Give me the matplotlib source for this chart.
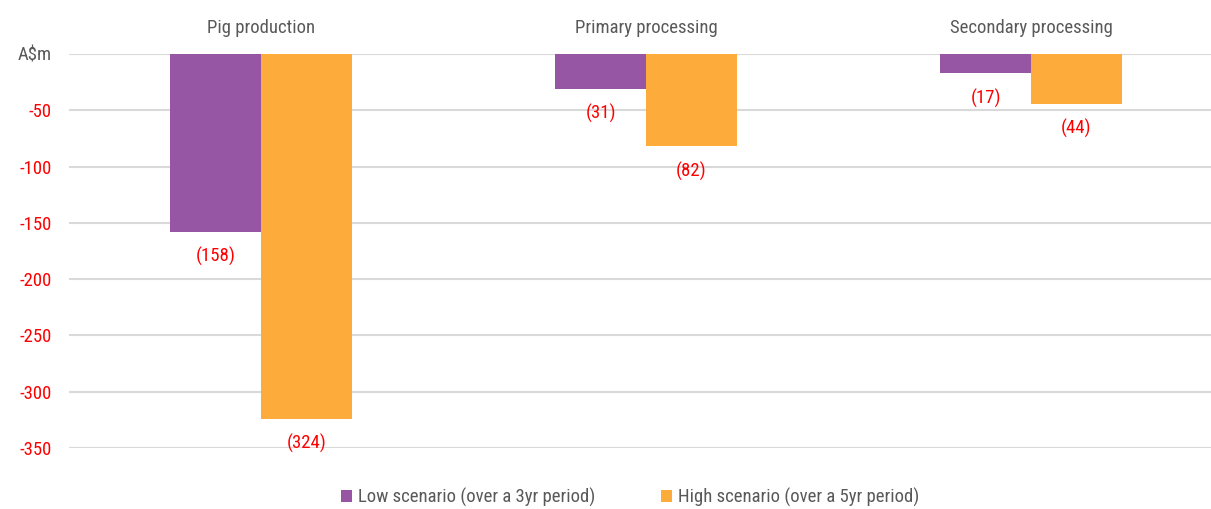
import matplotlib
matplotlib.use('Agg')
import matplotlib.pyplot as plt
import numpy as np

# impact by supply chain stage, A$m
stages = ['Pig production', 'Primary processing', 'Secondary processing']
low_vals = [-158, -31, -17]
high_vals = [-324, -82, -44]
series_names = ['Low scenario (over a 3yr period)', 'High scenario (over a 5yr period)']
y_ticks = [0, -50, -100, -150, -200, -250, -300, -350]

purple = '#9656A3'
orange = '#FDAC3B'
grey_text = '#595959'
fs = 13.5

plt.rcParams['font.family'] = ['Roboto Condensed', 'Archivo Narrow', 'DejaVu Sans']

fig = plt.figure(figsize=(12.11, 5.09), dpi=100)
ax = fig.add_axes([68.5 / 1211, 1 - 448 / 509, 1155 / 1211, (448 - 54) / 509])

x = np.arange(len(stages))
w = 0.236
b1 = ax.bar(x - w / 2, low_vals, w, color=purple, label=series_names[0])
b2 = ax.bar(x + w / 2, high_vals, w, color=orange, label=series_names[1])

for bars, vals in ((b1, low_vals), (b2, high_vals)):
    for rect, v in zip(bars, vals):
        ax.annotate('(%d)' % abs(v), (rect.get_x() + rect.get_width() / 2, v),
                    xytext=(0, -18), textcoords='offset points',
                    ha='center', va='center', color='red', fontsize=fs)

ax.set_xlim(-0.5, len(stages) - 0.5)
ax.set_ylim(-350, 0)
ax.set_yticks(y_ticks)
ax.set_yticklabels(['A$m'] + [str(t) for t in y_ticks[1:]], fontsize=fs)
for lbl in ax.get_yticklabels()[1:]:
    lbl.set_color('red')
ax.get_yticklabels()[0].set_color(grey_text)
ax.tick_params(axis='y', length=0, pad=12)

ax.xaxis.tick_top()
ax.set_xticks(x)
ax.set_xticklabels(stages, fontsize=fs, color=grey_text)
ax.tick_params(axis='x', length=0, pad=12)

ax.grid(axis='y', color='#d9d9d9', linewidth=1.5)
ax.set_axisbelow(True)
for s in ax.spines.values():
    s.set_visible(False)

fig.legend(loc='center', bbox_to_anchor=(630 / 1211, 1 - 497 / 509), ncol=2,
           frameon=False, fontsize=fs, handlelength=0.6, handleheight=0.6,
           handletextpad=0.3, columnspacing=3.5, labelcolor=grey_text)

fig.savefig('out.png', dpi=100)
